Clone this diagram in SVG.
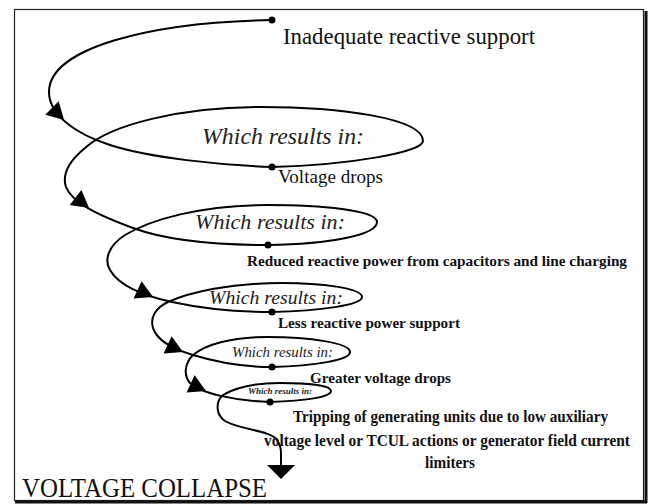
<svg xmlns="http://www.w3.org/2000/svg" width="650" height="504" viewBox="0 0 650 504">
<defs>
<style>
.sp{fill:none;stroke:#000;stroke-width:2;stroke-linecap:round}
.dot{fill:#000}
.t{font-family:"Liberation Serif","Times New Roman",serif;fill:#111}
.it{font-style:italic;fill:#222}
.b{font-weight:bold}
.frame{fill:none;stroke:#222;stroke-width:1.2}
.shadow{fill:none;stroke:#111;stroke-width:3}
</style>
<path id="ah" d="M0,0 L-17,-9.5 L-17,9.5 Z" fill="#000"/>
</defs>
<rect x="0" y="0" width="650" height="504" fill="#fff"/>
<g id="frame">
<rect class="frame" x="14.5" y="9.5" width="629" height="491"/>
<path class="shadow" d="M646,11 V503 M15,502 H647"/>
</g>
<g id="connectors">
<path class="sp" d="M272,20 C150,22 49,48 49,92 C49,112 70,132 110,145 S220,165 272,167
C350,165 423,152 423,141 C423,118 340,107 260,107 C180,107 110,125 85,148 C68,162 62,175 66,187 C72,202 95,214 133,228 S230,245 268,245
C330,244 377,235 377,222 C377,210 320,205 267,205 C200,205 150,220 125,235 C108,246 104,260 110,270 C118,284 140,295 172,302 S240,312 272,312
C320,311 362,305 362,297 C362,288 320,283 283,283 C230,283 190,292 168,302 C155,308 150,318 153,328 C157,340 170,348 193,355 S245,367 272,367
C315,366 350,360 350,352 C350,343 310,337 267,337 C230,337 205,345 193,355 C185,363 183,375 190,383 C200,393 235,401 270,402
C305,401 331,397 331,391 C331,385 305,383 280,383 C255,383 235,388 223,395 C215,402 216,415 225,421 C240,430 270,430 277,440 C281,446 281,450 281,455 L281,466"/>
<use href="#ah" transform="translate(64,120) rotate(45)"/>
<use href="#ah" transform="translate(89,208) rotate(38)"/>
<use href="#ah" transform="translate(153,297) rotate(25)"/>
<use href="#ah" transform="translate(183,352) rotate(25)"/>
<use href="#ah" transform="translate(206,391) rotate(25)"/>
<polygon points="267,465 295,465 281,479" fill="#000"/>
<circle class="dot" cx="272" cy="20" r="3.5"/>
<circle class="dot" cx="272" cy="167" r="3.5"/>
<circle class="dot" cx="268" cy="245" r="3.5"/>
<circle class="dot" cx="272" cy="312" r="3.5"/>
<circle class="dot" cx="272" cy="367" r="3.5"/>
<circle class="dot" cx="270" cy="402" r="3.5"/>
</g>
<g id="n-start"><text class="t" x="283" y="44" font-size="23" textLength="252" lengthAdjust="spacingAndGlyphs">Inadequate reactive support</text></g>
<g id="n-w1"><text class="t it" x="202" y="144" font-size="23.5" textLength="162" lengthAdjust="spacingAndGlyphs">Which results in:</text></g>
<g id="n-r1"><text class="t" x="278" y="183" font-size="19" textLength="105" lengthAdjust="spacingAndGlyphs">Voltage drops</text></g>
<g id="n-w2"><text class="t it" x="195" y="229" font-size="22" textLength="150" lengthAdjust="spacingAndGlyphs">Which results in:</text></g>
<g id="n-r2"><text class="t b" x="247" y="266" font-size="15.5" textLength="380" lengthAdjust="spacingAndGlyphs">Reduced reactive power from capacitors and line charging</text></g>
<g id="n-w3"><text class="t it" x="209" y="304" font-size="19.5" textLength="134" lengthAdjust="spacingAndGlyphs">Which results in:</text></g>
<g id="n-r3"><text class="t b" x="278" y="328" font-size="15.5" textLength="182" lengthAdjust="spacingAndGlyphs">Less reactive power support</text></g>
<g id="n-w4"><text class="t it" x="232" y="357" font-size="15" textLength="101" lengthAdjust="spacingAndGlyphs">Which results in:</text></g>
<g id="n-r4"><text class="t b" x="310" y="383" font-size="15.5" textLength="141" lengthAdjust="spacingAndGlyphs">Greater voltage drops</text></g>
<g id="n-w5"><text class="t it b" x="248" y="394" font-size="9" textLength="64" lengthAdjust="spacingAndGlyphs">Which results in:</text></g>
<g id="n-r5">
<text class="t b" x="293" y="422" font-size="16" textLength="315" lengthAdjust="spacingAndGlyphs">Tripping of generating units due to low auxiliary</text>
<text class="t b" x="264" y="446" font-size="16" textLength="366" lengthAdjust="spacingAndGlyphs">voltage level or TCUL actions or generator field current</text>
<text class="t b" x="425" y="468" font-size="16" textLength="50" lengthAdjust="spacingAndGlyphs">limiters</text>
</g>
<g id="n-end"><text class="t" x="22" y="497" font-size="27" textLength="245" lengthAdjust="spacingAndGlyphs">VOLTAGE COLLAPSE</text></g>
</svg>
